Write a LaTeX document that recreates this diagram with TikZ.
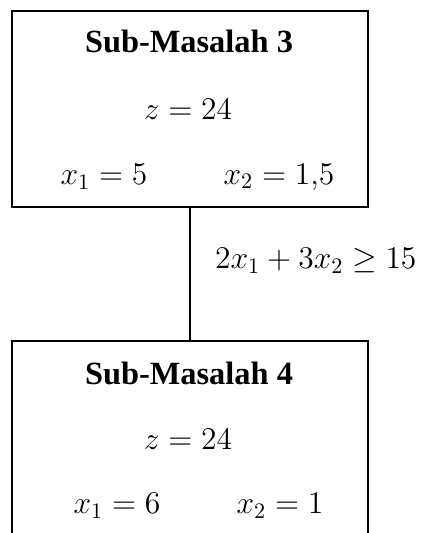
\RequirePackage{fix-cm}
\documentclass[tikz,border=0pt]{standalone}
\usepackage{fontspec}
\setmainfont{Liberation Serif}
\tikzset{
  subbox/.style={draw, line width=1pt, inner sep=0pt},
  judul/.style={font=\fontsize{16.2}{19}\selectfont\bfseries},
  nilai/.style={font=\fontsize{15.8}{19}\selectfont}
}
\begin{document}
\begin{tikzpicture}[x=0.5pt, y=-0.5pt]
  \useasboundingbox (0,0) rectangle (423,533);

  % kotak sub-masalah
  \node[subbox, minimum width=178pt, minimum height=98pt] (sub3) at (190,109) {};
  \node[subbox, minimum width=178pt, minimum height=106pt] (sub4) at (190,447) {};

  \draw[line width=1pt] (sub3.south) -- (sub4.north);

  \node[judul] (j3) at (189,41) {Sub-Masalah 3};
  \node[nilai] (z3) at (188,109) {$z = 24$};
  \node[nilai] (a3) at (104,177) {$x_1 = 5$};
  \node[nilai] (b3) at (279,177) {$x_2 = 1{,}5$};

  \node[nilai, anchor=west] (c34) at (208,261) {$2x_1 + 3x_2 \geq 15$};

  \node[judul] (j4) at (189,373) {Sub-Masalah 4};
  \node[nilai] (z4) at (188,439) {$z = 24$};
  \node[nilai] (a4) at (117,506) {$x_1 = 6$};
  \node[nilai] (b4) at (280,506) {$x_2 = 1$};
\end{tikzpicture}
\end{document}
